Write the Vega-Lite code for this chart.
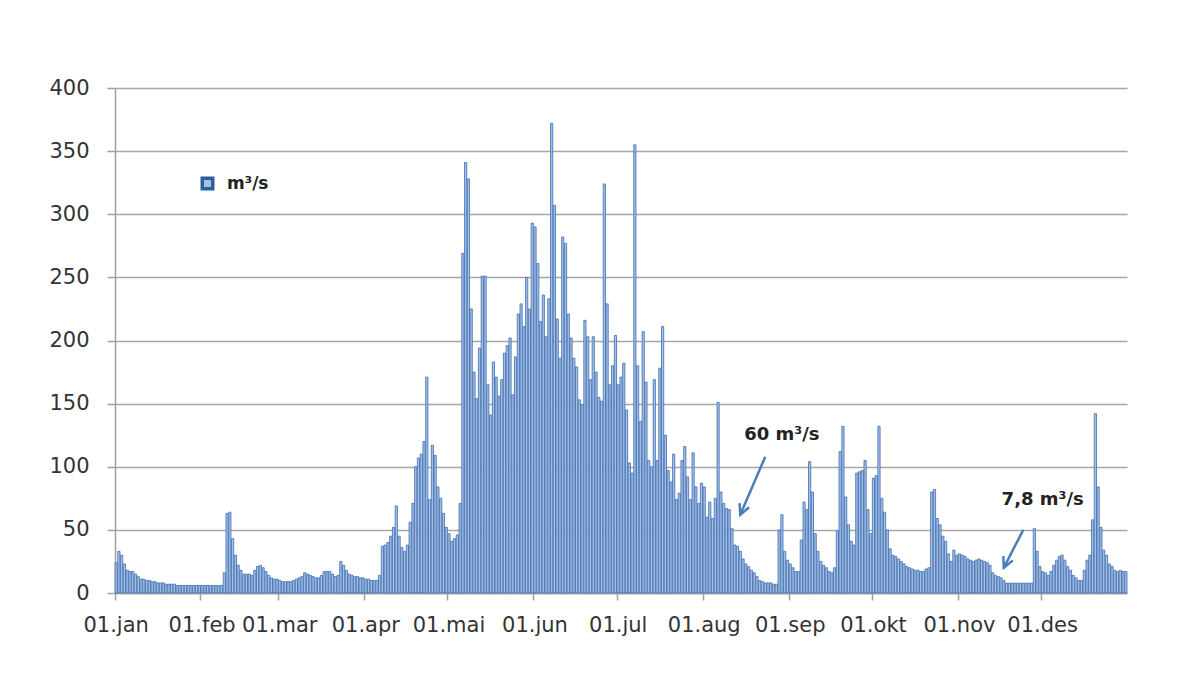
{
  "$schema": "https://vega.github.io/schema/vega-lite/v6.json",
  "width": 1012,
  "height": 505,
  "autosize": {"type": "none"},
  "padding": {"left": 115, "top": 88, "right": 54, "bottom": 87},
  "background": "white",
  "config": {"view": {"stroke": null}, "font": "DejaVu Sans"},
  "datasets": {
    "flow": [
      {"d":0,"v":24},{"d":1,"v":33},{"d":2,"v":30},{"d":3,"v":23},{"d":4,"v":18},{"d":5,"v":17},{"d":6,"v":17},{"d":7,"v":15},{"d":8,"v":13},{"d":9,"v":11},{"d":10,"v":11},{"d":11,"v":10},{"d":12,"v":10},{"d":13,"v":9},{"d":14,"v":9},{"d":15,"v":8},{"d":16,"v":8},{"d":17,"v":8},{"d":18,"v":7},{"d":19,"v":7},{"d":20,"v":7},{"d":21,"v":7},{"d":22,"v":6},{"d":23,"v":6},{"d":24,"v":6},{"d":25,"v":6},{"d":26,"v":6},{"d":27,"v":6},{"d":28,"v":6},{"d":29,"v":6},{"d":30,"v":6},
      {"d":31,"v":6},{"d":32,"v":6},{"d":33,"v":6},{"d":34,"v":6},{"d":35,"v":6},{"d":36,"v":6},{"d":37,"v":6},{"d":38,"v":6},{"d":39,"v":16},{"d":40,"v":63},{"d":41,"v":64},{"d":42,"v":43},{"d":43,"v":30},{"d":44,"v":22},{"d":45,"v":18},{"d":46,"v":15},{"d":47,"v":15},{"d":48,"v":15},{"d":49,"v":14},{"d":50,"v":18},{"d":51,"v":21},{"d":52,"v":22},{"d":53,"v":20},{"d":54,"v":17},{"d":55,"v":14},{"d":56,"v":12},{"d":57,"v":11},{"d":58,"v":11},
      {"d":59,"v":10},{"d":60,"v":9},{"d":61,"v":9},{"d":62,"v":9},{"d":63,"v":9},{"d":64,"v":10},{"d":65,"v":11},{"d":66,"v":12},{"d":67,"v":13},{"d":68,"v":16},{"d":69,"v":15},{"d":70,"v":14},{"d":71,"v":13},{"d":72,"v":12},{"d":73,"v":12},{"d":74,"v":14},{"d":75,"v":17},{"d":76,"v":17},{"d":77,"v":17},{"d":78,"v":15},{"d":79,"v":13},{"d":80,"v":14},{"d":81,"v":25},{"d":82,"v":22},{"d":83,"v":18},{"d":84,"v":15},{"d":85,"v":14},{"d":86,"v":13},{"d":87,"v":13},{"d":88,"v":12},{"d":89,"v":12},
      {"d":90,"v":11},{"d":91,"v":11},{"d":92,"v":10},{"d":93,"v":10},{"d":94,"v":10},{"d":95,"v":14},{"d":96,"v":37},{"d":97,"v":38},{"d":98,"v":40},{"d":99,"v":45},{"d":100,"v":52},{"d":101,"v":69},{"d":102,"v":45},{"d":103,"v":36},{"d":104,"v":33},{"d":105,"v":38},{"d":106,"v":56},{"d":107,"v":71},{"d":108,"v":100},{"d":109,"v":107},{"d":110,"v":110},{"d":111,"v":120},{"d":112,"v":171},{"d":113,"v":74},{"d":114,"v":117},{"d":115,"v":109},{"d":116,"v":84},{"d":117,"v":75},{"d":118,"v":63},{"d":119,"v":52},
      {"d":120,"v":47},{"d":121,"v":41},{"d":122,"v":43},{"d":123,"v":46},{"d":124,"v":71},{"d":125,"v":269},{"d":126,"v":341},{"d":127,"v":328},{"d":128,"v":225},{"d":129,"v":175},{"d":130,"v":154},{"d":131,"v":194},{"d":132,"v":251},{"d":133,"v":251},{"d":134,"v":165},{"d":135,"v":141},{"d":136,"v":183},{"d":137,"v":171},{"d":138,"v":156},{"d":139,"v":169},{"d":140,"v":190},{"d":141,"v":196},{"d":142,"v":202},{"d":143,"v":157},{"d":144,"v":187},{"d":145,"v":221},{"d":146,"v":229},{"d":147,"v":211},{"d":148,"v":250},{"d":149,"v":225},{"d":150,"v":293},
      {"d":151,"v":290},{"d":152,"v":261},{"d":153,"v":215},{"d":154,"v":236},{"d":155,"v":203},{"d":156,"v":233},{"d":157,"v":372},{"d":158,"v":307},{"d":159,"v":217},{"d":160,"v":186},{"d":161,"v":282},{"d":162,"v":277},{"d":163,"v":221},{"d":164,"v":202},{"d":165,"v":186},{"d":166,"v":179},{"d":167,"v":153},{"d":168,"v":149},{"d":169,"v":216},{"d":170,"v":203},{"d":171,"v":169},{"d":172,"v":203},{"d":173,"v":175},{"d":174,"v":155},{"d":175,"v":152},{"d":176,"v":324},{"d":177,"v":229},{"d":178,"v":165},{"d":179,"v":180},{"d":180,"v":204},
      {"d":181,"v":165},{"d":182,"v":171},{"d":183,"v":182},{"d":184,"v":145},{"d":185,"v":103},{"d":186,"v":95},{"d":187,"v":355},{"d":188,"v":180},{"d":189,"v":136},{"d":190,"v":207},{"d":191,"v":167},{"d":192,"v":105},{"d":193,"v":100},{"d":194,"v":169},{"d":195,"v":105},{"d":196,"v":178},{"d":197,"v":211},{"d":198,"v":125},{"d":199,"v":97},{"d":200,"v":88},{"d":201,"v":110},{"d":202,"v":74},{"d":203,"v":79},{"d":204,"v":105},{"d":205,"v":116},{"d":206,"v":92},{"d":207,"v":74},{"d":208,"v":111},{"d":209,"v":84},{"d":210,"v":71},{"d":211,"v":87},
      {"d":212,"v":84},{"d":213,"v":60},{"d":214,"v":72},{"d":215,"v":59},{"d":216,"v":75},{"d":217,"v":151},{"d":218,"v":80},{"d":219,"v":71},{"d":220,"v":67},{"d":221,"v":66},{"d":222,"v":51},{"d":223,"v":38},{"d":224,"v":37},{"d":225,"v":33},{"d":226,"v":27},{"d":227,"v":23},{"d":228,"v":21},{"d":229,"v":18},{"d":230,"v":16},{"d":231,"v":13},{"d":232,"v":10},{"d":233,"v":9},{"d":234,"v":8},{"d":235,"v":8},{"d":236,"v":8},{"d":237,"v":7},{"d":238,"v":7},{"d":239,"v":50},{"d":240,"v":62},{"d":241,"v":33},{"d":242,"v":26},
      {"d":243,"v":23},{"d":244,"v":20},{"d":245,"v":17},{"d":246,"v":17},{"d":247,"v":42},{"d":248,"v":72},{"d":249,"v":66},{"d":250,"v":104},{"d":251,"v":80},{"d":252,"v":47},{"d":253,"v":33},{"d":254,"v":25},{"d":255,"v":22},{"d":256,"v":20},{"d":257,"v":17},{"d":258,"v":16},{"d":259,"v":20},{"d":260,"v":49},{"d":261,"v":112},{"d":262,"v":132},{"d":263,"v":76},{"d":264,"v":54},{"d":265,"v":41},{"d":266,"v":38},{"d":267,"v":95},{"d":268,"v":96},{"d":269,"v":97},{"d":270,"v":105},{"d":271,"v":66},{"d":272,"v":47},
      {"d":273,"v":91},{"d":274,"v":93},{"d":275,"v":132},{"d":276,"v":75},{"d":277,"v":64},{"d":278,"v":50},{"d":279,"v":35},{"d":280,"v":30},{"d":281,"v":29},{"d":282,"v":27},{"d":283,"v":25},{"d":284,"v":23},{"d":285,"v":21},{"d":286,"v":20},{"d":287,"v":19},{"d":288,"v":18},{"d":289,"v":18},{"d":290,"v":17},{"d":291,"v":17},{"d":292,"v":19},{"d":293,"v":20},{"d":294,"v":80},{"d":295,"v":82},{"d":296,"v":59},{"d":297,"v":54},{"d":298,"v":45},{"d":299,"v":41},{"d":300,"v":31},{"d":301,"v":25},{"d":302,"v":34},{"d":303,"v":30},
      {"d":304,"v":31},{"d":305,"v":30},{"d":306,"v":29},{"d":307,"v":27},{"d":308,"v":26},{"d":309,"v":25},{"d":310,"v":26},{"d":311,"v":27},{"d":312,"v":26},{"d":313,"v":25},{"d":314,"v":24},{"d":315,"v":22},{"d":316,"v":16},{"d":317,"v":14},{"d":318,"v":13},{"d":319,"v":12},{"d":320,"v":10},{"d":321,"v":7.8},{"d":322,"v":7.8},{"d":323,"v":7.8},{"d":324,"v":7.8},{"d":325,"v":7.8},{"d":326,"v":7.8},{"d":327,"v":7.8},{"d":328,"v":7.8},{"d":329,"v":7.8},{"d":330,"v":7.8},{"d":331,"v":51},{"d":332,"v":33},{"d":333,"v":21},
      {"d":334,"v":17},{"d":335,"v":16},{"d":336,"v":14},{"d":337,"v":17},{"d":338,"v":22},{"d":339,"v":26},{"d":340,"v":29},{"d":341,"v":30},{"d":342,"v":26},{"d":343,"v":21},{"d":344,"v":18},{"d":345,"v":14},{"d":346,"v":12},{"d":347,"v":10},{"d":348,"v":10},{"d":349,"v":18},{"d":350,"v":26},{"d":351,"v":30},{"d":352,"v":58},{"d":353,"v":142},{"d":354,"v":84},{"d":355,"v":52},{"d":356,"v":34},{"d":357,"v":30},{"d":358,"v":23},{"d":359,"v":21},{"d":360,"v":18},{"d":361,"v":17},{"d":362,"v":18},{"d":363,"v":17},{"d":364,"v":17}
    ],
    "one": [{}]
  },
  "layer": [
    {
      "data": {"name": "flow"},
      "mark": {"type": "bar", "stroke": "#3d6db0", "strokeWidth": 0.8},
      "encoding": {
        "x": {
          "field": "d",
          "type": "ordinal",
          "scale": {"paddingInner": 0.2, "paddingOuter": 0},
          "axis": {
            "values": [0, 31, 59, 90, 120, 151, 181, 212, 243, 273, 304, 334],
            "bandPosition": 0,
            "labelExpr": "['01.jan','01.feb','01.mar','01.apr','01.mai','01.jun','01.jul','01.aug','01.sep','01.okt','01.nov','01.des'][indexof([0,31,59,90,120,151,181,212,243,273,304,334], datum.value)]",
            "title": null,
            "labelAngle": 0,
            "labelOverlap": false,
            "labelFlush": false,
            "labelFont": "DejaVu Sans",
            "labelFontSize": 21,
            "labelColor": "#333333",
            "labelPadding": 14,
            "domainColor": "#a0a0a0",
            "domainWidth": 1.5,
            "tickColor": "#a0a0a0",
            "tickWidth": 1.5,
            "tickSize": 7,
            "grid": false
          }
        },
        "y": {
          "field": "v",
          "type": "quantitative",
          "scale": {"domain": [0, 400], "nice": false},
          "axis": {
            "values": [0, 50, 100, 150, 200, 250, 300, 350, 400],
            "title": null,
            "grid": true,
            "gridColor": "#a6a6a6",
            "gridWidth": 1.5,
            "domainColor": "#a0a0a0",
            "domainWidth": 1.5,
            "tickColor": "#a0a0a0",
            "tickWidth": 1.5,
            "tickSize": 8,
            "labelFont": "DejaVu Sans",
            "labelFontSize": 21,
            "labelColor": "#333333",
            "labelPadding": 18
          }
        },
        "color": {
          "datum": "m³/s",
          "type": "nominal",
          "scale": {"range": ["#a6c0e5"]},
          "legend": {
            "orient": "none",
            "legendX": 84,
            "legendY": 87,
            "title": null,
            "symbolType": "square",
            "symbolSize": 110,
            "symbolStrokeColor": "#2f5e9e",
            "symbolStrokeWidth": 3.5,
            "labelOffset": 11,
            "labelFont": "DejaVu Sans",
            "labelFontSize": 17,
            "labelFontWeight": "bold",
            "labelColor": "#222222"
          }
        }
      }
    },
    {
      "data": {"name": "one"},
      "mark": {"type": "rule", "color": "#4a7ebb", "strokeWidth": 2.5},
      "encoding": {
        "x": {"datum": 234, "type": "ordinal"},
        "x2": {"datum": 225},
        "y": {"datum": 108, "type": "quantitative"},
        "y2": {"datum": 62}
      }
    },
    {
      "data": {"name": "one"},
      "mark": {"type": "rule", "color": "#4a7ebb", "strokeWidth": 2.5},
      "encoding": {
        "x": {"datum": 327, "type": "ordinal"},
        "x2": {"datum": 320},
        "y": {"datum": 50, "type": "quantitative"},
        "y2": {"datum": 20}
      }
    },
    {
      "data": {"name": "one"},
      "mark": {"type": "point", "shape": "M -0.7 1.4 L 0 0 L 0.7 1.4", "filled": false, "stroke": "#4a7ebb", "strokeWidth": 2.5, "size": 220, "angle": 203, "opacity": 1},
      "encoding": {
        "x": {"datum": 225, "type": "ordinal"},
        "y": {"datum": 62, "type": "quantitative"}
      }
    },
    {
      "data": {"name": "one"},
      "mark": {"type": "point", "shape": "M -0.7 1.4 L 0 0 L 0.7 1.4", "filled": false, "stroke": "#4a7ebb", "strokeWidth": 2.5, "size": 220, "angle": 204, "opacity": 1},
      "encoding": {
        "x": {"datum": 320, "type": "ordinal"},
        "y": {"datum": 20, "type": "quantitative"}
      }
    },
    {
      "data": {"name": "one"},
      "mark": {"type": "text", "text": "60 m³/s", "font": "DejaVu Sans", "fontWeight": "bold", "fontSize": 18, "color": "#222222", "align": "center", "baseline": "middle"},
      "encoding": {
        "x": {"datum": 240, "type": "ordinal"},
        "y": {"datum": 125, "type": "quantitative"}
      }
    },
    {
      "data": {"name": "one"},
      "mark": {"type": "text", "text": "7,8 m³/s", "font": "DejaVu Sans", "fontWeight": "bold", "fontSize": 18, "color": "#222222", "align": "center", "baseline": "middle"},
      "encoding": {
        "x": {"datum": 334, "type": "ordinal"},
        "y": {"datum": 74, "type": "quantitative"}
      }
    }
  ]
}
